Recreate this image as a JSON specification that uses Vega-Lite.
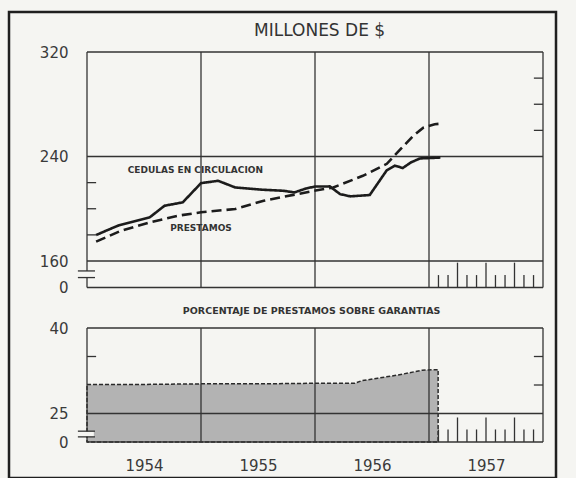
{
  "$schema": "https://vega.github.io/schema/vega-lite/v6.json",
  "autosize": {"type": "none"},
  "width": 547,
  "height": 466,
  "padding": {"left": 9, "top": 12, "right": 20, "bottom": 0},
  "background": "#f5f5f2",
  "config": {
    "view": {"stroke": "#1f1f1f", "strokeWidth": 2.5},
    "axis": {"labelFont": "DejaVu Sans", "labelColor": "#3a3a3a", "labelFontSize": 15, "domain": false, "ticks": false, "grid": false, "labelFlush": false, "labelOverlap": false}
  },
  "datasets": {
    "topRules": [
      {"t": 1954, "t2": 1958, "v": 320, "v2": 320},
      {"t": 1954, "t2": 1958, "v": 0, "v2": 0},
      {"t": 1958, "t2": 1958, "v": 0, "v2": 320},
      {"t": 1954, "t2": 1954, "v": 100, "v2": 320},
      {"t": 1954, "t2": 1954, "v": 0, "v2": 60},
      {"t": 1954, "t2": 1958, "v": 240, "v2": 240},
      {"t": 1954, "t2": 1958, "v": 160, "v2": 160},
      {"t": 1955, "t2": 1955, "v": 0, "v2": 320},
      {"t": 1956, "t2": 1956, "v": 0, "v2": 320},
      {"t": 1957, "t2": 1957, "v": 0, "v2": 320},
      {"t": 1953.92, "t2": 1954.07, "v": 100, "v2": 100},
      {"t": 1953.92, "t2": 1954.07, "v": 60, "v2": 60},
      {"t": 1954, "t2": 1954.08, "v": 180, "v2": 180},
      {"t": 1954, "t2": 1954.08, "v": 200, "v2": 200},
      {"t": 1954, "t2": 1954.08, "v": 220, "v2": 220},
      {"t": 1957.92, "t2": 1958, "v": 260, "v2": 260},
      {"t": 1957.92, "t2": 1958, "v": 280, "v2": 280},
      {"t": 1957.92, "t2": 1958, "v": 300, "v2": 300},
      {"t": 1957.083, "t2": 1957.083, "v": 0, "v2": 75},
      {"t": 1957.167, "t2": 1957.167, "v": 0, "v2": 75},
      {"t": 1957.25, "t2": 1957.25, "v": 0, "v2": 150},
      {"t": 1957.333, "t2": 1957.333, "v": 0, "v2": 75},
      {"t": 1957.417, "t2": 1957.417, "v": 0, "v2": 75},
      {"t": 1957.5, "t2": 1957.5, "v": 0, "v2": 150},
      {"t": 1957.583, "t2": 1957.583, "v": 0, "v2": 75},
      {"t": 1957.667, "t2": 1957.667, "v": 0, "v2": 75},
      {"t": 1957.75, "t2": 1957.75, "v": 0, "v2": 150},
      {"t": 1957.833, "t2": 1957.833, "v": 0, "v2": 75},
      {"t": 1957.917, "t2": 1957.917, "v": 0, "v2": 75}
    ],
    "series": [
      {"serie": "CEDULAS EN CIRCULACION", "t": 1954.08, "v": 179.9},
      {"serie": "CEDULAS EN CIRCULACION", "t": 1954.27, "v": 187.0},
      {"serie": "CEDULAS EN CIRCULACION", "t": 1954.55, "v": 193.4},
      {"serie": "CEDULAS EN CIRCULACION", "t": 1954.68, "v": 202.3},
      {"serie": "CEDULAS EN CIRCULACION", "t": 1954.84, "v": 204.9},
      {"serie": "CEDULAS EN CIRCULACION", "t": 1955.0, "v": 219.6},
      {"serie": "CEDULAS EN CIRCULACION", "t": 1955.15, "v": 221.4},
      {"serie": "CEDULAS EN CIRCULACION", "t": 1955.3, "v": 216.3},
      {"serie": "CEDULAS EN CIRCULACION", "t": 1955.55, "v": 214.5},
      {"serie": "CEDULAS EN CIRCULACION", "t": 1955.72, "v": 213.8},
      {"serie": "CEDULAS EN CIRCULACION", "t": 1955.82, "v": 212.5},
      {"serie": "CEDULAS EN CIRCULACION", "t": 1955.92, "v": 215.5},
      {"serie": "CEDULAS EN CIRCULACION", "t": 1956.0, "v": 217.0},
      {"serie": "CEDULAS EN CIRCULACION", "t": 1956.13, "v": 217.1},
      {"serie": "CEDULAS EN CIRCULACION", "t": 1956.22, "v": 211.2},
      {"serie": "CEDULAS EN CIRCULACION", "t": 1956.31, "v": 209.5},
      {"serie": "CEDULAS EN CIRCULACION", "t": 1956.48, "v": 210.5},
      {"serie": "CEDULAS EN CIRCULACION", "t": 1956.63, "v": 229.5},
      {"serie": "CEDULAS EN CIRCULACION", "t": 1956.7, "v": 233.0},
      {"serie": "CEDULAS EN CIRCULACION", "t": 1956.77, "v": 231.2},
      {"serie": "CEDULAS EN CIRCULACION", "t": 1956.84, "v": 235.4},
      {"serie": "CEDULAS EN CIRCULACION", "t": 1956.92, "v": 238.5},
      {"serie": "CEDULAS EN CIRCULACION", "t": 1957.1, "v": 239.2},
      {"serie": "PRESTAMOS", "t": 1954.08, "v": 174.8},
      {"serie": "PRESTAMOS", "t": 1954.3, "v": 183.2},
      {"serie": "PRESTAMOS", "t": 1954.55, "v": 189.6},
      {"serie": "PRESTAMOS", "t": 1954.8, "v": 194.7},
      {"serie": "PRESTAMOS", "t": 1955.0, "v": 197.3},
      {"serie": "PRESTAMOS", "t": 1955.3, "v": 199.8},
      {"serie": "PRESTAMOS", "t": 1955.55, "v": 206.1},
      {"serie": "PRESTAMOS", "t": 1955.99, "v": 213.7},
      {"serie": "PRESTAMOS", "t": 1956.16, "v": 216.3},
      {"serie": "PRESTAMOS", "t": 1956.42, "v": 225.2},
      {"serie": "PRESTAMOS", "t": 1956.63, "v": 234.4},
      {"serie": "PRESTAMOS", "t": 1956.75, "v": 245.6},
      {"serie": "PRESTAMOS", "t": 1956.86, "v": 255.7},
      {"serie": "PRESTAMOS", "t": 1956.95, "v": 262.1},
      {"serie": "PRESTAMOS", "t": 1957.05, "v": 264.7},
      {"serie": "PRESTAMOS", "t": 1957.09, "v": 265.0}
    ],
    "seriesLabels": [
      {"label": "CEDULAS EN CIRCULACION", "t": 1954.95, "v": 229.7},
      {"label": "PRESTAMOS", "t": 1955.0, "v": 185.0}
    ],
    "pct": [
      {"t": 1954.0, "p": 30.1},
      {"t": 1954.5, "p": 30.1},
      {"t": 1955.0, "p": 30.2},
      {"t": 1955.5, "p": 30.2},
      {"t": 1956.0, "p": 30.3},
      {"t": 1956.35, "p": 30.3},
      {"t": 1956.41, "p": 30.75},
      {"t": 1956.55, "p": 31.2},
      {"t": 1956.73, "p": 31.75},
      {"t": 1956.94, "p": 32.6},
      {"t": 1957.08, "p": 32.7}
    ],
    "botRules": [
      {"t": 1954, "t2": 1958, "p": 40, "p2": 40},
      {"t": 1954, "t2": 1958, "p": 0, "p2": 0},
      {"t": 1958, "t2": 1958, "p": 0, "p2": 40},
      {"t": 1954, "t2": 1954, "p": 9.5, "p2": 40},
      {"t": 1954, "t2": 1954, "p": 0, "p2": 4.5},
      {"t": 1954, "t2": 1958, "p": 25, "p2": 25},
      {"t": 1955, "t2": 1955, "p": 0, "p2": 40},
      {"t": 1956, "t2": 1956, "p": 0, "p2": 40},
      {"t": 1957, "t2": 1957, "p": 0, "p2": 40},
      {"t": 1953.92, "t2": 1954.07, "p": 9.5, "p2": 9.5},
      {"t": 1953.92, "t2": 1954.07, "p": 4.5, "p2": 4.5},
      {"t": 1954, "t2": 1954.08, "p": 35, "p2": 35},
      {"t": 1957.92, "t2": 1958, "p": 35, "p2": 35},
      {"t": 1957.92, "t2": 1958, "p": 30, "p2": 30},
      {"t": 1957.083, "t2": 1957.083, "p": 0, "p2": 11},
      {"t": 1957.167, "t2": 1957.167, "p": 0, "p2": 11},
      {"t": 1957.25, "t2": 1957.25, "p": 0, "p2": 21.5},
      {"t": 1957.333, "t2": 1957.333, "p": 0, "p2": 11},
      {"t": 1957.417, "t2": 1957.417, "p": 0, "p2": 11},
      {"t": 1957.5, "t2": 1957.5, "p": 0, "p2": 21.5},
      {"t": 1957.583, "t2": 1957.583, "p": 0, "p2": 11},
      {"t": 1957.667, "t2": 1957.667, "p": 0, "p2": 11},
      {"t": 1957.75, "t2": 1957.75, "p": 0, "p2": 21.5},
      {"t": 1957.833, "t2": 1957.833, "p": 0, "p2": 11},
      {"t": 1957.917, "t2": 1957.917, "p": 0, "p2": 11}
    ]
  },
  "layer": [
    {
      "data": {"name": "topRules"},
      "mark": {"type": "rule", "color": "#333333", "strokeWidth": 1.3},
      "encoding": {
        "x": {"field": "t", "type": "quantitative", "scale": {"domain": [1954, 1958], "range": [78, 534], "nice": false, "zero": false}, "axis": {"orient": "bottom", "offset": -36, "values": [1954.5, 1955.5, 1956.5, 1957.5], "labelExpr": "'' + floor(datum.value)", "labelPadding": 23, "labelBaseline": "middle", "title": null}},
        "x2": {"field": "t2"},
        "y": {"field": "v", "type": "quantitative", "scale": {"domain": [0, 160, 320], "range": [275.5, 249, 40], "nice": false, "zero": false}, "axis": {"orient": "left", "offset": -78, "values": [0, 160, 240, 320], "labelPadding": 19, "title": null}},
        "y2": {"field": "v2"}
      }
    },
    {
      "data": {"name": "series"},
      "mark": {"type": "line", "color": "#1c1c1c", "strokeWidth": 2.6},
      "encoding": {
        "x": {"field": "t", "type": "quantitative", "scale": {"domain": [1954, 1958], "range": [78, 534], "nice": false, "zero": false}, "axis": null},
        "y": {"field": "v", "type": "quantitative", "scale": {"domain": [0, 160, 320], "range": [275.5, 249, 40], "nice": false, "zero": false}, "axis": null},
        "detail": {"field": "serie", "type": "nominal"},
        "strokeDash": {"field": "serie", "type": "nominal", "scale": {"domain": ["CEDULAS EN CIRCULACION", "PRESTAMOS"], "range": [[1, 0], [10, 5]]}, "legend": null}
      }
    },
    {
      "data": {"name": "seriesLabels"},
      "mark": {"type": "text", "font": "DejaVu Sans", "fontWeight": "bold", "fontSize": 9, "color": "#333333", "align": "center", "baseline": "middle"},
      "encoding": {
        "x": {"field": "t", "type": "quantitative", "scale": {"domain": [1954, 1958], "range": [78, 534], "nice": false, "zero": false}, "axis": null},
        "y": {"field": "v", "type": "quantitative", "scale": {"domain": [0, 160, 320], "range": [275.5, 249, 40], "nice": false, "zero": false}, "axis": null},
        "text": {"field": "label", "type": "nominal"}
      }
    },
    {
      "data": {"values": [{"titulo": "MILLONES DE $"}]},
      "mark": {"type": "text", "font": "DejaVu Sans", "fontSize": 17, "color": "#333333", "align": "center", "baseline": "middle"},
      "encoding": {
        "x": {"datum": 1956.04, "type": "quantitative", "scale": {"domain": [1954, 1958], "range": [78, 534], "nice": false, "zero": false}, "axis": null},
        "y": {"datum": 336, "type": "quantitative", "scale": {"domain": [0, 160, 320], "range": [275.5, 249, 40], "nice": false, "zero": false}, "axis": null},
        "text": {"field": "titulo", "type": "nominal"}
      }
    },
    {
      "data": {"name": "pct"},
      "mark": {"type": "area", "fill": "#b3b3b3", "stroke": "#2a2a2a", "strokeWidth": 1.5, "strokeDash": [4, 2]},
      "encoding": {
        "x": {"field": "t", "type": "quantitative", "scale": {"domain": [1954, 1958], "range": [78, 534], "nice": false, "zero": false}, "axis": null},
        "y": {"field": "p", "type": "quantitative", "scale": {"domain": [0, 25, 40], "range": [430, 401.5, 316], "nice": false, "zero": false}, "axis": null}
      }
    },
    {
      "data": {"values": [{}]},
      "mark": {"type": "rect", "color": "#f5f5f2"},
      "encoding": {
        "x": {"datum": 1953.93, "type": "quantitative", "scale": {"domain": [1954, 1958], "range": [78, 534], "nice": false, "zero": false}, "axis": null},
        "x2": {"datum": 1954.06},
        "y": {"datum": 4.7, "type": "quantitative", "scale": {"domain": [0, 25, 40], "range": [430, 401.5, 316], "nice": false, "zero": false}, "axis": null},
        "y2": {"datum": 9.3}
      }
    },
    {
      "data": {"name": "botRules"},
      "mark": {"type": "rule", "color": "#333333", "strokeWidth": 1.3},
      "encoding": {
        "x": {"field": "t", "type": "quantitative", "scale": {"domain": [1954, 1958], "range": [78, 534], "nice": false, "zero": false}, "axis": null},
        "x2": {"field": "t2"},
        "y": {"field": "p", "type": "quantitative", "scale": {"domain": [0, 25, 40], "range": [430, 401.5, 316], "nice": false, "zero": false}, "axis": {"orient": "left", "offset": -78, "values": [0, 25, 40], "labelPadding": 19, "title": null}},
        "y2": {"field": "p2"}
      }
    },
    {
      "data": {"values": [{"titulo": "PORCENTAJE DE PRESTAMOS SOBRE GARANTIAS"}]},
      "mark": {"type": "text", "font": "DejaVu Sans", "fontWeight": "bold", "fontSize": 9.5, "color": "#333333", "align": "center", "baseline": "middle"},
      "encoding": {
        "x": {"datum": 1955.97, "type": "quantitative", "scale": {"domain": [1954, 1958], "range": [78, 534], "nice": false, "zero": false}, "axis": null},
        "y": {"datum": 43, "type": "quantitative", "scale": {"domain": [0, 25, 40], "range": [430, 401.5, 316], "nice": false, "zero": false}, "axis": null},
        "text": {"field": "titulo", "type": "nominal"}
      }
    }
  ],
  "resolve": {"scale": {"y": "independent"}, "axis": {"x": "independent", "y": "independent"}}
}
